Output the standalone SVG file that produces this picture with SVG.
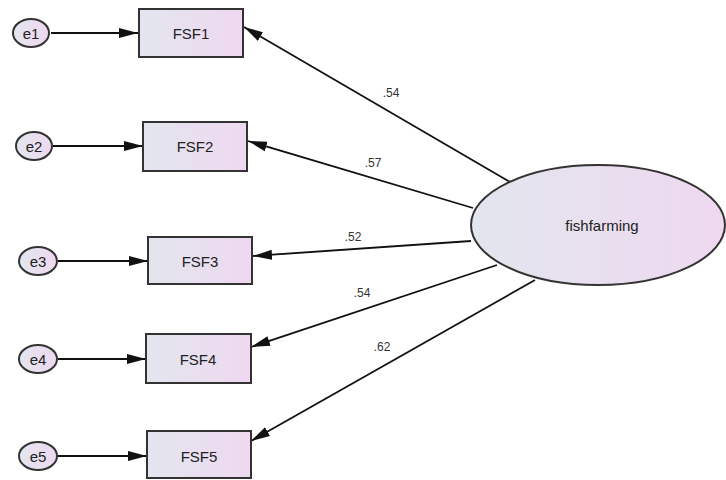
<svg xmlns="http://www.w3.org/2000/svg" width="726" height="480" viewBox="0 0 726 480">
<defs>
<linearGradient id="g" x1="0" y1="0" x2="1" y2="0">
<stop offset="0" stop-color="#e2e6ee"/>
<stop offset="1" stop-color="#efd8f0"/>
</linearGradient>
<marker id="ah" markerUnits="userSpaceOnUse" markerWidth="20" markerHeight="12" viewBox="0 0 20 12" refX="19" refY="6" orient="auto">
<path d="M0,1 L19,6 L0,11 Z" fill="#111"/>
</marker>
<style>
.n{fill:url(#g);stroke:#333;stroke-width:2}
.t{font-family:"Liberation Sans",Arial,sans-serif;font-size:15px;fill:#222;text-anchor:middle;dominant-baseline:central}
.l{font-family:"Liberation Sans",Arial,sans-serif;font-size:12px;fill:#333;text-anchor:middle}
.c line{stroke:#111;stroke-width:1.8;marker-end:url(#ah)}
</style>
</defs>
<rect width="726" height="480" fill="#fff"/>
<g class="c" id="connectors">
<line x1="51" y1="33" x2="138" y2="33"/>
<line x1="53" y1="146" x2="143" y2="146"/>
<line x1="58" y1="261" x2="148" y2="261"/>
<line x1="58" y1="359" x2="146" y2="359"/>
<line x1="58" y1="456" x2="147" y2="456"/>
<line x1="510" y1="182" x2="244" y2="27"/>
<line x1="473" y1="208" x2="248" y2="141"/>
<line x1="471" y1="241" x2="253" y2="256"/>
<line x1="497" y1="265" x2="251" y2="347"/>
<line x1="535" y1="280" x2="251" y2="441"/>
</g>
<g id="labels">
<text class="l" x="391" y="97">.54</text>
<text class="l" x="373" y="167">.57</text>
<text class="l" x="353" y="241">.52</text>
<text class="l" x="362" y="297">.54</text>
<text class="l" x="382" y="351">.62</text>
</g>
<g id="e1"><ellipse class="n" cx="31" cy="33" rx="18" ry="14"/><text class="t" x="31" y="33">e1</text></g>
<g id="e2"><ellipse class="n" cx="34" cy="146" rx="18" ry="14"/><text class="t" x="34" y="146">e2</text></g>
<g id="e3"><ellipse class="n" cx="38" cy="261" rx="19" ry="14"/><text class="t" x="38" y="261">e3</text></g>
<g id="e4"><ellipse class="n" cx="38" cy="359" rx="19" ry="14"/><text class="t" x="38" y="359">e4</text></g>
<g id="e5"><ellipse class="n" cx="38" cy="456" rx="19" ry="14"/><text class="t" x="38" y="456">e5</text></g>
<g id="FSF1"><rect class="n" x="139" y="9" width="104" height="48"/><text class="t" x="191" y="33">FSF1</text></g>
<g id="FSF2"><rect class="n" x="143" y="122" width="104" height="49"/><text class="t" x="195" y="146">FSF2</text></g>
<g id="FSF3"><rect class="n" x="148" y="237" width="104" height="47"/><text class="t" x="200" y="261">FSF3</text></g>
<g id="FSF4"><rect class="n" x="146" y="334" width="105" height="49"/><text class="t" x="198" y="359">FSF4</text></g>
<g id="FSF5"><rect class="n" x="147" y="431" width="104" height="47"/><text class="t" x="199" y="456">FSF5</text></g>
<g id="fishfarming"><ellipse class="n" cx="598" cy="225" rx="127" ry="60"/><text class="t" x="602" y="225">fishfarming</text></g>
</svg>
